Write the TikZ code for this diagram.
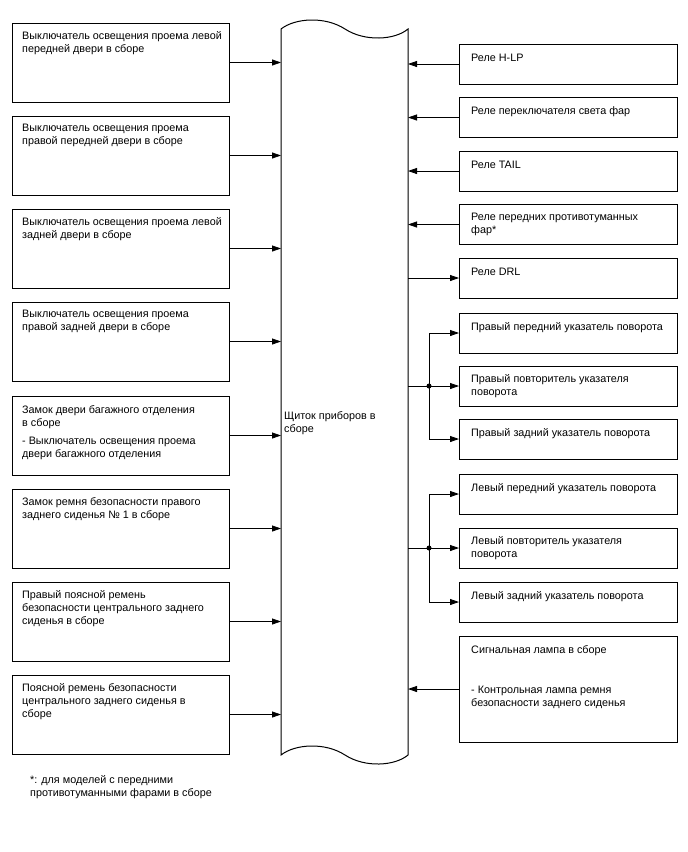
\documentclass[tikz,border=0pt]{standalone}
\usepackage{fontspec}
\setmainfont{Liberation Sans}
\usetikzlibrary{arrows.meta}
\begin{document}
\begin{tikzpicture}[x=1pt,y=-1pt,
  box/.style={draw, line width=1pt, anchor=north west, inner sep=0pt, outer sep=0pt, minimum width=217pt, minimum height=79pt},
  rbox/.style={box, minimum width=218pt, minimum height=40pt},
  txt/.style={anchor=north west, inner sep=0pt, align=left, font=\fontsize{10.8}{13}\selectfont, execute at begin node=\strut},
  ln/.style={line width=0.8pt},
  arr/.style={ln, -{Triangle[length=9pt,width=6pt]}},
  jdot/.style={circle, fill, inner sep=0pt, minimum size=5pt}]
\useasboundingbox (0,0) rectangle (688,852);

% central bar
\draw[line width=1pt, fill=white] (281,755) -- (281,29)
  .. controls (295,18) and (325,16) .. (345,29)
  .. controls (365,42) and (395,40) .. (408,29)
  -- (408,755)
  .. controls (395,766) and (365,768) .. (345,755)
  .. controls (325,742) and (295,744) .. (281,755) -- cycle;
\coordinate (bl) at (281,400);
\coordinate (br) at (408,400);
\node[txt] (center) at (284,411.5) {Щиток приборов в\\сборе};

% left boxes
\node[box] (L1) at (12,23) {};
\node[box] (L2) at (12,116) {};
\node[box] (L3) at (12,209) {};
\node[box] (L4) at (12,302) {};
\node[box] (L5) at (12,396) {};
\node[box] (L6) at (12,489) {};
\node[box] (L7) at (12,582) {};
\node[box] (L8) at (12,675) {};

\node[txt] (tL1) at ([shift={(10,8)}]L1.north west) {Выключатель освещения проема левой\\передней двери в сборе};
\node[txt] (tL2) at ([shift={(10,8)}]L2.north west) {Выключатель освещения проема\\правой передней двери в сборе};
\node[txt] (tL3) at ([shift={(10,8)}]L3.north west) {Выключатель освещения проема левой\\задней двери в сборе};
\node[txt] (tL4) at ([shift={(10,8)}]L4.north west) {Выключатель освещения проема\\правой задней двери в сборе};
\node[txt] (tL5) at ([shift={(10,9)}]L5.north west) {Замок двери багажного отделения\\в сборе\\[5pt]- Выключатель освещения проема\\двери багажного отделения};
\node[txt] (tL6) at ([shift={(10,8)}]L6.north west) {Замок ремня безопасности правого\\заднего сиденья № 1 в сборе};
\node[txt] (tL7) at ([shift={(10,8)}]L7.north west) {Правый поясной ремень\\безопасности центрального заднего\\сиденья в сборе};
\node[txt] (tL8) at ([shift={(10,8)}]L8.north west) {Поясной ремень безопасности\\центрального заднего сиденья в\\сборе};

\foreach \n in {L1,L2,L3,L4,L5,L6,L7,L8}
  \draw[arr] (\n.east) -- (\n.east -| bl);

% right boxes
\node[rbox] (R1) at (459,44) {};
\node[rbox] (R2) at (459,97.5) {};
\node[rbox] (R3) at (459,151) {};
\node[rbox] (R4) at (459,204.5) {};
\node[rbox] (R5) at (459,258) {};
\node[rbox] (R6) at (459,313) {};
\node[rbox] (R7) at (459,366) {};
\node[rbox] (R8) at (459,419) {};
\node[rbox] (R9) at (459,474) {};
\node[rbox] (R10) at (459,528) {};
\node[rbox] (R11) at (459,582) {};
\node[rbox, minimum height=106pt] (R12) at (459,636) {};

\node[txt] (tR1) at ([shift={(12,8)}]R1.north west) {Реле H-LP};
\node[txt] (tR2) at ([shift={(12,8)}]R2.north west) {Реле переключателя света фар};
\node[txt] (tR3) at ([shift={(12,8)}]R3.north west) {Реле TAIL};
\node[txt] (tR4) at ([shift={(12,8)}]R4.north west) {Реле передних противотуманных\\фар*};
\node[txt] (tR5) at ([shift={(12,8)}]R5.north west) {Реле DRL};
\node[txt] (tR6) at ([shift={(12,8)}]R6.north west) {Правый передний указатель поворота};
\node[txt] (tR7) at ([shift={(12,8)}]R7.north west) {Правый повторитель указателя\\поворота};
\node[txt] (tR8) at ([shift={(12,8)}]R8.north west) {Правый задний указатель поворота};
\node[txt] (tR9) at ([shift={(12,8)}]R9.north west) {Левый передний указатель поворота};
\node[txt] (tR10) at ([shift={(12,8)}]R10.north west) {Левый повторитель указателя\\поворота};
\node[txt] (tR11) at ([shift={(12,8)}]R11.north west) {Левый задний указатель поворота};
\node[txt] (tR12) at ([shift={(12,9.5)}]R12.north west) {Сигнальная лампа в сборе\\[27pt]- Контрольная лампа ремня\\безопасности заднего сиденья};

\foreach \n in {R1,R2,R3,R4,R12}
  \draw[arr] (\n.west) -- (\n.west -| br);
\draw[arr] (R5.west -| br) -- (R5.west);

% junction groups
\coordinate (j1) at (429,386);
\draw[ln] (R7.west -| br) -- (j1);
\draw[arr] (j1) -- (R7.west);
\draw[arr] (j1) |- (R6.west);
\draw[arr] (j1) |- (R8.west);
\node[jdot] (d1) at (j1) {};

\coordinate (j2) at (429,548);
\draw[ln] (R10.west -| br) -- (j2);
\draw[arr] (j2) -- (R10.west);
\draw[arr] (j2) |- (R9.west);
\draw[arr] (j2) |- (R11.west);
\node[jdot] (d2) at (j2) {};

% footnote
\node[txt] (foot) at (30,775.5) {*: для моделей с передними\\противотуманными фарами в сборе};
\end{tikzpicture}
\end{document}
